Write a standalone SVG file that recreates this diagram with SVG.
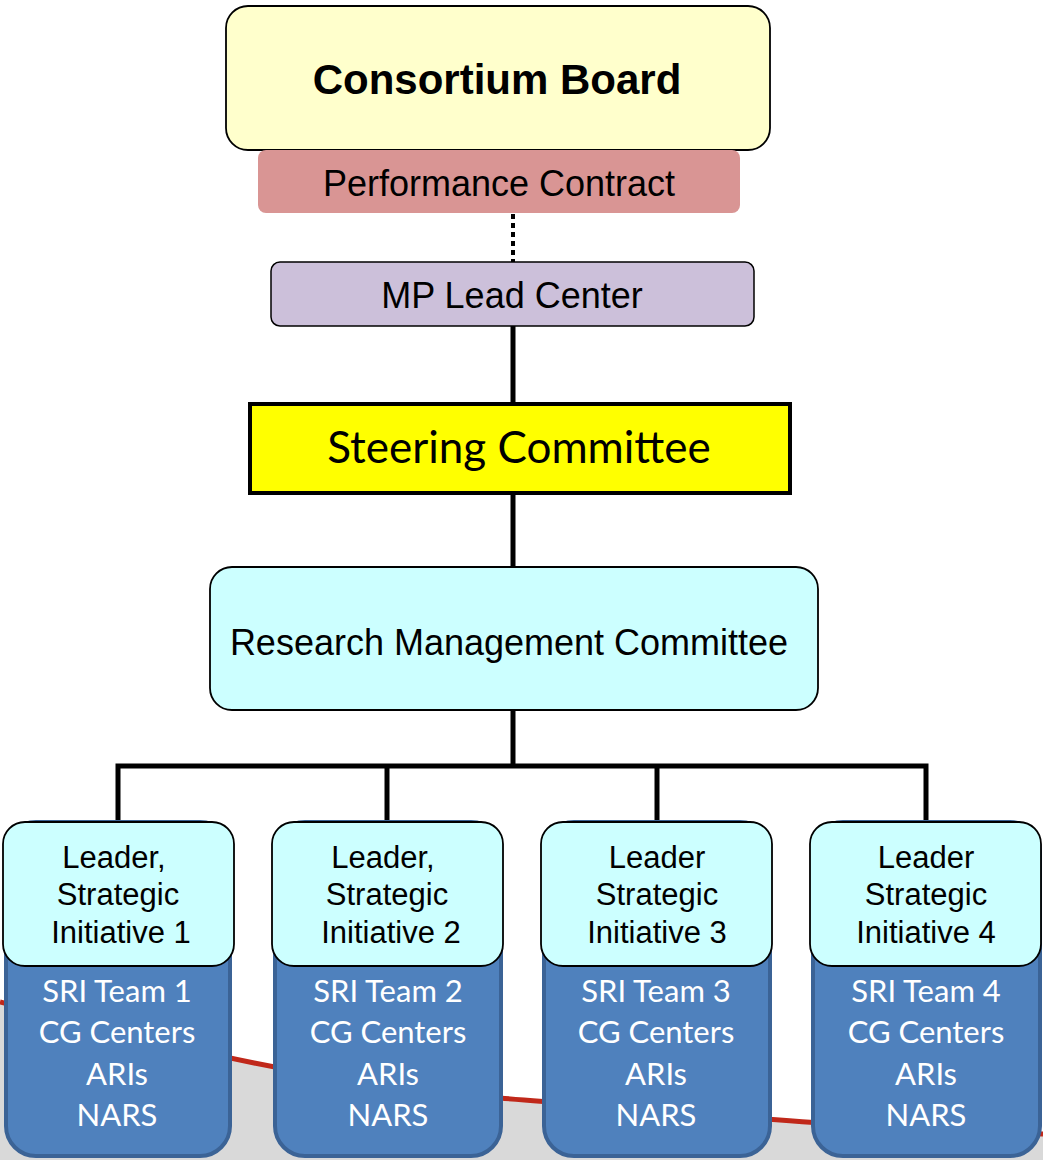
<svg xmlns="http://www.w3.org/2000/svg" width="1043" height="1160" viewBox="0 0 1043 1160">
<style>
.h{font-family:"Liberation Sans",Arial,sans-serif;fill:#000;text-anchor:middle}
.c{font-family:Lato,"Open Sans",sans-serif;text-anchor:middle}
.lead{fill:#ccffff;stroke:#000;stroke-width:1.8}
.team{fill:#4f81bd;stroke:#3b6396;stroke-width:4}
.conn{stroke:#000;stroke-width:5;fill:none}
.tw{fill:#fff;font-size:31px}
.lt{font-size:31px}
</style>
<rect width="1043" height="1160" fill="#fff"/>
<g id="background">
<path d="M0,1002 C150,1040 300,1082 500,1098 S850,1128 1043,1134 L1043,1160 L0,1160 Z" fill="#d9d9d9"/>
<path d="M0,1002 C150,1040 300,1082 500,1098 S850,1128 1043,1134" fill="none" stroke="#c0281a" stroke-width="5"/>
</g>
<g id="connectors">
<line x1="513" y1="214" x2="513" y2="262" stroke="#000" stroke-width="4" stroke-dasharray="5,4"/>
<line class="conn" x1="513" y1="326" x2="513" y2="403"/>
<line class="conn" x1="513" y1="493" x2="513" y2="567"/>
<line class="conn" x1="513" y1="710" x2="513" y2="766"/>
<polyline class="conn" points="118,822 118,766 926,766 926,822"/>
<line class="conn" x1="387" y1="766" x2="387" y2="822"/>
<line class="conn" x1="657" y1="766" x2="657" y2="822"/>
</g>
<g id="consortium-board">
<rect x="226" y="6" width="544" height="144" rx="22" fill="#ffffcc" stroke="#000" stroke-width="1.8"/>
<text class="h" x="497" y="94" font-size="42" font-weight="bold">Consortium Board</text>
</g>
<g id="performance-contract">
<rect x="258" y="150" width="482" height="63" rx="8" fill="#d99594"/>
<text class="h" x="499" y="196" font-size="36">Performance Contract</text>
</g>
<g id="mp-lead-center">
<rect x="271" y="262" width="483" height="64" rx="9" fill="#ccc0da" stroke="#000" stroke-width="1.5"/>
<text class="h" x="512" y="308" font-size="36">MP Lead Center</text>
</g>
<g id="steering-committee">
<rect x="250" y="404" width="540" height="89" fill="#ffff00" stroke="#000" stroke-width="4"/>
<text class="c" x="519" y="463" font-size="44">Steering Committee</text>
</g>
<g id="research-management-committee">
<rect x="210" y="567" width="608" height="143" rx="22" class="lead"/>
<text class="h" x="509" y="655" font-size="36">Research Management Committee</text>
</g>
<g id="sri-1">
<rect x="6" y="822" width="224" height="334" rx="30" class="team"/>
<rect x="3" y="822" width="231" height="144" rx="22" class="lead"/>
<text class="h lt" x="114" y="868">Leader,</text>
<text class="h lt" x="118" y="905">Strategic</text>
<text class="h lt" x="121" y="943">Initiative 1</text>
<text class="c tw"><tspan x="117" y="1002">SRI Team 1</tspan><tspan x="117" y="1043">CG Centers</tspan><tspan x="117" y="1085">ARIs</tspan><tspan x="117" y="1126">NARS</tspan></text>
</g>
<g id="sri-2">
<rect x="275" y="822" width="226" height="334" rx="30" class="team"/>
<rect x="272" y="822" width="231" height="144" rx="22" class="lead"/>
<text class="h lt" x="383" y="868">Leader,</text>
<text class="h lt" x="387" y="905">Strategic</text>
<text class="h lt" x="391" y="943">Initiative 2</text>
<text class="c tw"><tspan x="388" y="1002">SRI Team 2</tspan><tspan x="388" y="1043">CG Centers</tspan><tspan x="388" y="1085">ARIs</tspan><tspan x="388" y="1126">NARS</tspan></text>
</g>
<g id="sri-3">
<rect x="544" y="822" width="226" height="334" rx="30" class="team"/>
<rect x="541" y="822" width="231" height="144" rx="22" class="lead"/>
<text class="h lt" x="657" y="868">Leader</text>
<text class="h lt" x="657" y="905">Strategic</text>
<text class="h lt" x="657" y="943">Initiative 3</text>
<text class="c tw"><tspan x="656" y="1002">SRI Team 3</tspan><tspan x="656" y="1043">CG Centers</tspan><tspan x="656" y="1085">ARIs</tspan><tspan x="656" y="1126">NARS</tspan></text>
</g>
<g id="sri-4">
<rect x="813" y="822" width="227" height="334" rx="30" class="team"/>
<rect x="810" y="822" width="231" height="144" rx="22" class="lead"/>
<text class="h lt" x="926" y="868">Leader</text>
<text class="h lt" x="926" y="905">Strategic</text>
<text class="h lt" x="926" y="943">Initiative 4</text>
<text class="c tw"><tspan x="926" y="1002">SRI Team 4</tspan><tspan x="926" y="1043">CG Centers</tspan><tspan x="926" y="1085">ARIs</tspan><tspan x="926" y="1126">NARS</tspan></text>
</g>
</svg>
